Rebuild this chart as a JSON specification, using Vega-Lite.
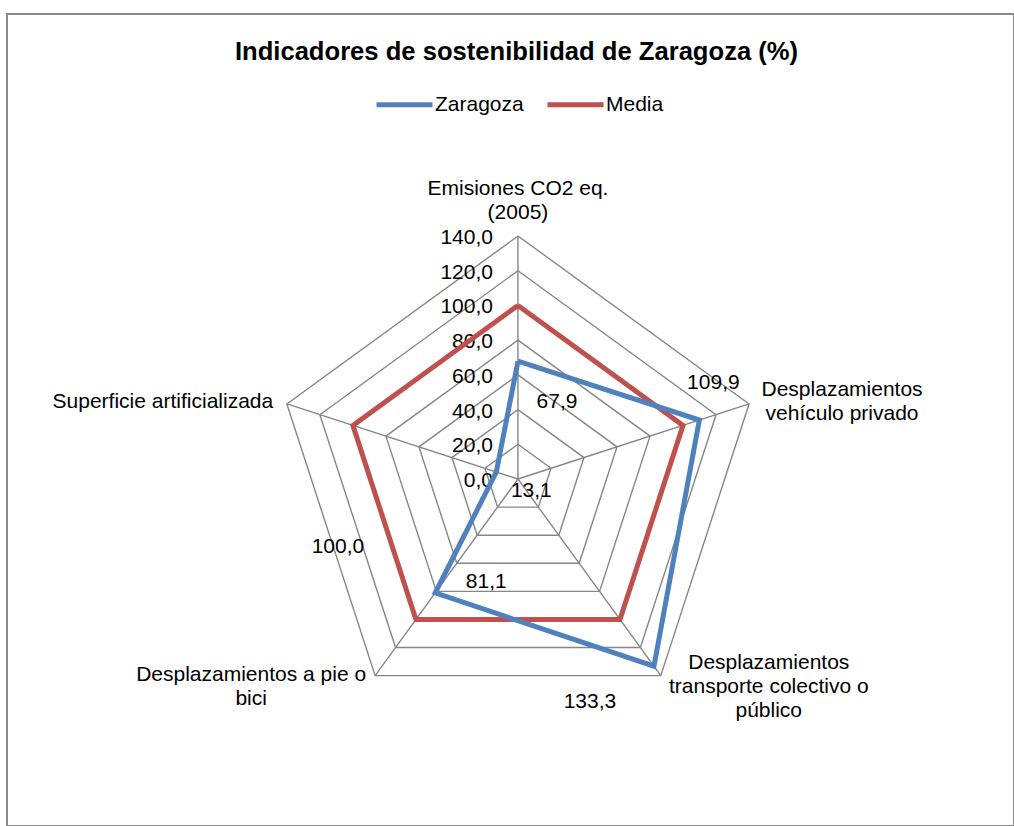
{
  "$schema": "https://vega.github.io/schema/vega-lite/v6.json",
  "width": 1007,
  "height": 812,
  "autosize": {"type": "none"},
  "padding": {"left": 7, "top": 14, "right": 0, "bottom": 0},
  "background": "white",
  "config": {
    "view": {"stroke": "#898989", "strokeWidth": 2},
    "font": "Liberation Sans",
    "text": {"font": "Liberation Sans", "fontSize": 21, "color": "black"},
    "legend": {"padding": 0}
  },
  "title": {
    "text": "Indicadores de sostenibilidad de Zaragoza (%)",
    "font": "Liberation Sans",
    "fontSize": 25.6,
    "fontWeight": "bold",
    "color": "black",
    "anchor": "middle",
    "frame": "group",
    "offset": 0,
    "baseline": "alphabetic",
    "dy": 72,
    "dx": 6
  },
  "datasets": {
    "valores": [
      {"serie": "Zaragoza", "k": 0, "valor": 67.9},
      {"serie": "Zaragoza", "k": 1, "valor": 109.9},
      {"serie": "Zaragoza", "k": 2, "valor": 133.3},
      {"serie": "Zaragoza", "k": 3, "valor": 81.1},
      {"serie": "Zaragoza", "k": 4, "valor": 13.1},
      {"serie": "Zaragoza", "k": 5, "valor": 67.9},
      {"serie": "Media", "k": 0, "valor": 100},
      {"serie": "Media", "k": 1, "valor": 100},
      {"serie": "Media", "k": 2, "valor": 100},
      {"serie": "Media", "k": 3, "valor": 100},
      {"serie": "Media", "k": 4, "valor": 100},
      {"serie": "Media", "k": 5, "valor": 100}
    ],
    "niveles": [
      {"nivel": 20, "k": [0, 1, 2, 3, 4, 5]},
      {"nivel": 40, "k": [0, 1, 2, 3, 4, 5]},
      {"nivel": 60, "k": [0, 1, 2, 3, 4, 5]},
      {"nivel": 80, "k": [0, 1, 2, 3, 4, 5]},
      {"nivel": 100, "k": [0, 1, 2, 3, 4, 5]},
      {"nivel": 120, "k": [0, 1, 2, 3, 4, 5]},
      {"nivel": 140, "k": [0, 1, 2, 3, 4, 5]}
    ],
    "marcas": [
      {"nivel": 0}, {"nivel": 20}, {"nivel": 40}, {"nivel": 60},
      {"nivel": 80}, {"nivel": 100}, {"nivel": 120}, {"nivel": 140}
    ],
    "ejes": [
      {"k": 0, "nombre": "Emisiones CO2 eq.\n(2005)"},
      {"k": 1, "nombre": "Desplazamientos\nvehículo privado"},
      {"k": 2, "nombre": "Desplazamientos\ntransporte colectivo o\npúblico"},
      {"k": 3, "nombre": "Desplazamientos a pie o\nbici"},
      {"k": 4, "nombre": "Superficie artificializada"}
    ]
  },
  "encoding": {
    "x": {"field": "x", "type": "quantitative", "scale": {"domain": [-294.4, 285.8], "nice": false, "zero": false}, "axis": null},
    "y": {"field": "y", "type": "quantitative", "scale": {"domain": [-199.9, 267.9], "nice": false, "zero": false}, "axis": null}
  },
  "layer": [
    {
      "data": {"name": "niveles"},
      "transform": [
        {"flatten": ["k"]},
        {"calculate": "datum.nivel*cos(PI/2 - datum.k*2*PI/5)", "as": "x"},
        {"calculate": "datum.nivel*sin(PI/2 - datum.k*2*PI/5)", "as": "y"}
      ],
      "mark": {"type": "line", "color": "#868686", "strokeWidth": 1.4},
      "encoding": {
        "detail": {"field": "nivel", "type": "nominal"},
        "order": {"field": "k", "type": "quantitative"}
      }
    },
    {
      "data": {"name": "ejes"},
      "transform": [
        {"calculate": "0", "as": "x"},
        {"calculate": "0", "as": "y"},
        {"calculate": "140*cos(PI/2 - datum.k*2*PI/5)", "as": "x2"},
        {"calculate": "140*sin(PI/2 - datum.k*2*PI/5)", "as": "y2"}
      ],
      "mark": {"type": "rule", "color": "#868686", "strokeWidth": 1.4},
      "encoding": {
        "x2": {"field": "x2"},
        "y2": {"field": "y2"}
      }
    },
    {
      "data": {"name": "marcas"},
      "transform": [
        {"calculate": "0", "as": "x"},
        {"calculate": "datum.nivel", "as": "y"},
        {"calculate": "replace(format(datum.nivel, '.1f'), '.', ',')", "as": "etiqueta"}
      ],
      "mark": {"type": "text", "align": "right", "baseline": "middle", "dx": -25, "dy": 2},
      "encoding": {"text": {"field": "etiqueta"}}
    },
    {
      "data": {"name": "valores"},
      "transform": [
        {"filter": "datum.serie == 'Media'"},
        {"calculate": "datum.valor*cos(PI/2 - datum.k*2*PI/5)", "as": "x"},
        {"calculate": "datum.valor*sin(PI/2 - datum.k*2*PI/5)", "as": "y"}
      ],
      "mark": {"type": "line", "strokeWidth": 5, "strokeJoin": "miter"},
      "encoding": {
        "color": {
          "field": "serie", "type": "nominal",
          "scale": {"domain": ["Zaragoza", "Media"], "range": ["#4F81BD", "#C0504D"]},
          "legend": {
            "title": null, "orient": "none", "direction": "horizontal",
            "legendX": 367, "legendY": 60,
            "symbolType": "stroke", "symbolSize": 3136, "symbolStrokeWidth": 5,
            "labelFont": "Liberation Sans", "labelFontSize": 21, "labelColor": "black",
            "labelOffset": 0, "columnPadding": 13
          }
        },
        "order": {"field": "k", "type": "quantitative"}
      }
    },
    {
      "data": {"name": "valores"},
      "transform": [
        {"filter": "datum.serie == 'Zaragoza'"},
        {"calculate": "datum.valor*cos(PI/2 - datum.k*2*PI/5)", "as": "x"},
        {"calculate": "datum.valor*sin(PI/2 - datum.k*2*PI/5)", "as": "y"}
      ],
      "mark": {"type": "line", "strokeWidth": 5, "strokeJoin": "miter"},
      "encoding": {
        "color": {"field": "serie", "type": "nominal"},
        "order": {"field": "k", "type": "quantitative"}
      }
    },
    {
      "data": {"name": "valores"},
      "transform": [
        {"filter": "datum.serie == 'Zaragoza' && datum.k == 0"},
        {"calculate": "datum.valor*cos(PI/2 - datum.k*2*PI/5)", "as": "x"},
        {"calculate": "datum.valor*sin(PI/2 - datum.k*2*PI/5)", "as": "y"},
        {"calculate": "replace(format(datum.valor, '.1f'), '.', ',')", "as": "etiqueta"}
      ],
      "mark": {"type": "text", "align": "center", "baseline": "middle", "dx": 39, "dy": 41},
      "encoding": {"text": {"field": "etiqueta"}}
    },
    {
      "data": {"name": "valores"},
      "transform": [
        {"filter": "datum.serie == 'Zaragoza' && datum.k == 1"},
        {"calculate": "datum.valor*cos(PI/2 - datum.k*2*PI/5)", "as": "x"},
        {"calculate": "datum.valor*sin(PI/2 - datum.k*2*PI/5)", "as": "y"},
        {"calculate": "replace(format(datum.valor, '.1f'), '.', ',')", "as": "etiqueta"}
      ],
      "mark": {"type": "text", "align": "center", "baseline": "middle", "dx": 14, "dy": -37},
      "encoding": {"text": {"field": "etiqueta"}}
    },
    {
      "data": {"name": "valores"},
      "transform": [
        {"filter": "datum.serie == 'Zaragoza' && datum.k == 2"},
        {"calculate": "datum.valor*cos(PI/2 - datum.k*2*PI/5)", "as": "x"},
        {"calculate": "datum.valor*sin(PI/2 - datum.k*2*PI/5)", "as": "y"},
        {"calculate": "replace(format(datum.valor, '.1f'), '.', ',')", "as": "etiqueta"}
      ],
      "mark": {"type": "text", "align": "center", "baseline": "middle", "dx": -64, "dy": 36},
      "encoding": {"text": {"field": "etiqueta"}}
    },
    {
      "data": {"name": "valores"},
      "transform": [
        {"filter": "datum.serie == 'Zaragoza' && datum.k == 3"},
        {"calculate": "datum.valor*cos(PI/2 - datum.k*2*PI/5)", "as": "x"},
        {"calculate": "datum.valor*sin(PI/2 - datum.k*2*PI/5)", "as": "y"},
        {"calculate": "replace(format(datum.valor, '.1f'), '.', ',')", "as": "etiqueta"}
      ],
      "mark": {"type": "text", "align": "center", "baseline": "middle", "dx": 51, "dy": -11},
      "encoding": {"text": {"field": "etiqueta"}}
    },
    {
      "data": {"name": "valores"},
      "transform": [
        {"filter": "datum.serie == 'Zaragoza' && datum.k == 4"},
        {"calculate": "datum.valor*cos(PI/2 - datum.k*2*PI/5)", "as": "x"},
        {"calculate": "datum.valor*sin(PI/2 - datum.k*2*PI/5)", "as": "y"},
        {"calculate": "replace(format(datum.valor, '.1f'), '.', ',')", "as": "etiqueta"}
      ],
      "mark": {"type": "text", "align": "center", "baseline": "middle", "dx": 35, "dy": 19},
      "encoding": {"text": {"field": "etiqueta"}}
    },
    {
      "data": {"name": "valores"},
      "transform": [
        {"filter": "datum.serie == 'Media' && datum.k == 3"},
        {"calculate": "datum.valor*cos(PI/2 - datum.k*2*PI/5)", "as": "x"},
        {"calculate": "datum.valor*sin(PI/2 - datum.k*2*PI/5)", "as": "y"},
        {"calculate": "replace(format(datum.valor, '.1f'), '.', ',')", "as": "etiqueta"}
      ],
      "mark": {"type": "text", "align": "center", "baseline": "middle", "dx": -78, "dy": -72},
      "encoding": {"text": {"field": "etiqueta"}}
    },
    {
      "data": {"name": "ejes"},
      "transform": [
        {"filter": "datum.k == 0"},
        {"calculate": "140*cos(PI/2 - datum.k*2*PI/5)", "as": "x"},
        {"calculate": "140*sin(PI/2 - datum.k*2*PI/5)", "as": "y"}
      ],
      "mark": {"type": "text", "align": "center", "baseline": "middle", "lineBreak": "\n", "lineHeight": 24, "dx": 0, "dy": -47},
      "encoding": {"text": {"field": "nombre"}}
    },
    {
      "data": {"name": "ejes"},
      "transform": [
        {"filter": "datum.k == 1"},
        {"calculate": "140*cos(PI/2 - datum.k*2*PI/5)", "as": "x"},
        {"calculate": "140*sin(PI/2 - datum.k*2*PI/5)", "as": "y"}
      ],
      "mark": {"type": "text", "align": "center", "baseline": "middle", "lineBreak": "\n", "lineHeight": 24, "dx": 93, "dy": -14},
      "encoding": {"text": {"field": "nombre"}}
    },
    {
      "data": {"name": "ejes"},
      "transform": [
        {"filter": "datum.k == 2"},
        {"calculate": "140*cos(PI/2 - datum.k*2*PI/5)", "as": "x"},
        {"calculate": "140*sin(PI/2 - datum.k*2*PI/5)", "as": "y"}
      ],
      "mark": {"type": "text", "align": "center", "baseline": "middle", "lineBreak": "\n", "lineHeight": 24, "dx": 108, "dy": -13},
      "encoding": {"text": {"field": "nombre"}}
    },
    {
      "data": {"name": "ejes"},
      "transform": [
        {"filter": "datum.k == 3"},
        {"calculate": "140*cos(PI/2 - datum.k*2*PI/5)", "as": "x"},
        {"calculate": "140*sin(PI/2 - datum.k*2*PI/5)", "as": "y"}
      ],
      "mark": {"type": "text", "align": "center", "baseline": "middle", "lineBreak": "\n", "lineHeight": 24, "dx": -124, "dy": -1},
      "encoding": {"text": {"field": "nombre"}}
    },
    {
      "data": {"name": "ejes"},
      "transform": [
        {"filter": "datum.k == 4"},
        {"calculate": "140*cos(PI/2 - datum.k*2*PI/5)", "as": "x"},
        {"calculate": "140*sin(PI/2 - datum.k*2*PI/5)", "as": "y"}
      ],
      "mark": {"type": "text", "align": "center", "baseline": "middle", "lineBreak": "\n", "lineHeight": 24, "dx": -124, "dy": -2},
      "encoding": {"text": {"field": "nombre"}}
    }
  ]
}
